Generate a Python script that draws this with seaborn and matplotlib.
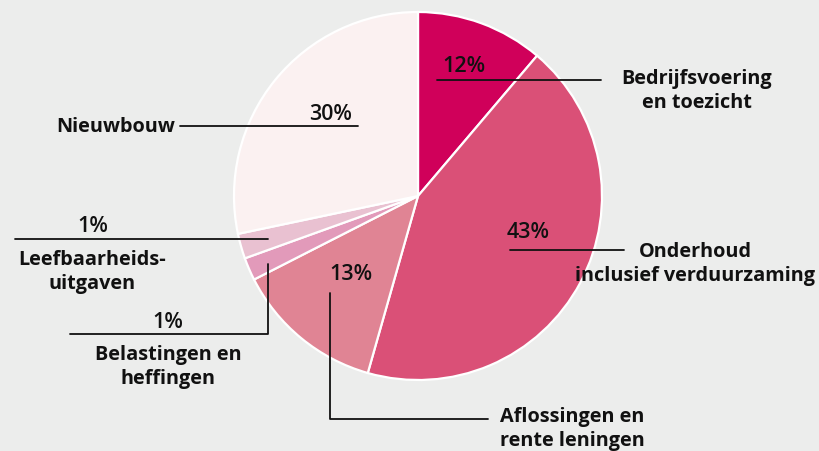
import matplotlib
matplotlib.use("Agg")
import matplotlib.pyplot as plt
import seaborn as sns

# slices clockwise from 12 o'clock
categories = ["Bedrijfsvoering\nen toezicht", "Onderhoud\ninclusief verduurzaming",
              "Aflossingen en\nrente leningen", "Belastingen en\nheffingen",
              "Leefbaarheids-\nuitgaven", "Nieuwbouw"]
shares = [11.2, 43.2, 13.1, 2.0, 2.2, 28.3]  # drawn sizes
pct_labels = ["12%", "43%", "13%", "1%", "1%", "30%"]
colors = ["#D0005A", "#DA5077", "#E08494", "#E29ABA", "#E9C1D1", "#FBF1F1"]
bg = "#ECEDEC"

sns.set_theme(style="white")
plt.rcParams["font.family"] = ["Open Sans", "DejaVu Sans"]

W, H = 820, 452
fig = plt.figure(figsize=(W / 100, H / 100), dpi=100, facecolor=bg)
ax = fig.add_axes([0, 0, 1, 1])
ax.set_facecolor(bg)

cx, cy, r = 418, H - 197, 184
ax.pie(shares, colors=colors, startangle=90, counterclock=False,
       center=(cx, cy), radius=r, frame=True,
       wedgeprops=dict(edgecolor="white", linewidth=1.6))
ax.set_xlim(0, W)
ax.set_ylim(0, H)
ax.set_aspect("equal")
ax.axis("off")

def Y(y):
    return H - y

lw = 1.3
k = "#111111"
fs = 14.3
pct_kw = dict(fontsize=15.5, fontweight="semibold", color=k, ha="center", va="center")
lab_kw = dict(fontsize=fs, fontweight="bold", color=k, ha="center", va="center",
              linespacing=1.25)

# Bedrijfsvoering
ax.plot([437, 601], [Y(81), Y(81)], color=k, lw=lw)
ax.text(464, Y(67), pct_labels[0], **pct_kw)
ax.text(697, Y(91), categories[0], **lab_kw)

# Onderhoud
ax.plot([510, 624], [Y(251), Y(251)], color=k, lw=lw)
ax.text(528, Y(233), pct_labels[1], **pct_kw)
ax.text(695, Y(264), categories[1], **lab_kw)

# Aflossingen
ax.plot([330, 330, 488], [Y(294), Y(420), Y(420)], color=k, lw=lw)
ax.text(351, Y(274), pct_labels[2], **pct_kw)
ax.text(572, Y(429), categories[2], **lab_kw)

# Belastingen
ax.plot([268, 268, 70], [Y(265), Y(335), Y(335)], color=k, lw=lw)
ax.text(168, Y(322), pct_labels[3], **pct_kw)
ax.text(168, Y(367), categories[3], **lab_kw)

# Leefbaarheids
ax.plot([15, 268], [Y(240), Y(240)], color=k, lw=lw)
ax.text(93, Y(227), pct_labels[4], **pct_kw)
ax.text(92, Y(272), categories[4], **lab_kw)

# Nieuwbouw
ax.plot([180, 358], [Y(127), Y(127)], color=k, lw=lw)
ax.text(331, Y(115), pct_labels[5], **pct_kw)
ax.text(175, Y(127), categories[5], ha="right", va="center",
        fontsize=fs, fontweight="bold", color=k)

fig.savefig("out.png", dpi=100, facecolor=bg)
